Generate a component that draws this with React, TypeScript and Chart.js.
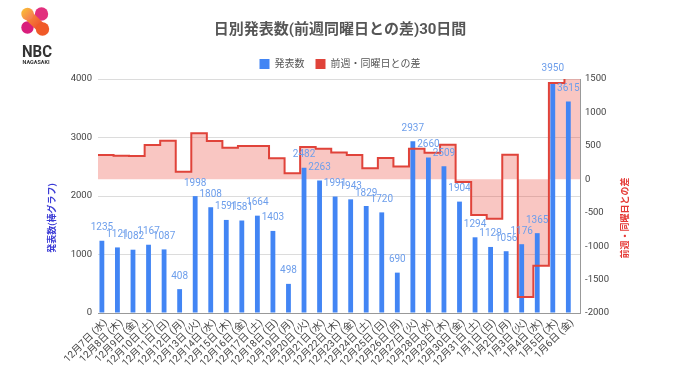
import React, { useEffect, useRef } from "react";
import { Chart, registerables } from "chart.js";

Chart.register(...registerables);

const categories = [
  "12月7日 (水)", "12月8日 (木)", "12月9日 (金)", "12月10日 (土)", "12月11日 (日)",
  "12月12日 (月)", "12月13日 (火)", "12月14日 (水)", "12月15日 (木)", "12月16日 (金)",
  "12月17日 (土)", "12月18日 (日)", "12月19日 (月)", "12月20日 (火)", "12月21日 (水)",
  "12月22日 (木)", "12月23日 (金)", "12月24日 (土)", "12月25日 (日)", "12月26日 (月)",
  "12月27日 (火)", "12月28日 (水)", "12月29日 (木)", "12月30日 (金)", "12月31日 (土)",
  "1月1日 (日)", "1月2日 (月)", "1月3日 (火)", "1月4日 (水)", "1月5日 (木)", "1月6日 (金)",
];

const counts = [
  1235, 1121, 1082, 1167, 1087, 408, 1998, 1808, 1591, 1581,
  1664, 1403, 498, 2482, 2263, 1991, 1943, 1829, 1720, 690,
  2937, 2660, 2509, 1904, 1294, 1129, 1056, 1176, 1365, 3950, 3615,
];

const weekDiff = [
  365, 352, 348, 513, 577, 114, 688, 573, 470, 499,
  497, 316, 90, 484, 455, 400, 362, 165, 317, 192,
  455, 397, 518, -39, -535, -591, 366, -1761, -1295, 1441, 1711,
];

const titleText = "日別発表数(前週同曜日との差)30日間";
const seriesNames = ["発表数", "前週・同曜日との差"];
const leftAxisTitle = "発表数(棒グラフ)";
const rightAxisTitle = "前週・同曜日との差";

const FONT = "Roboto, 'Noto Sans CJK JP', sans-serif";
const BLUE = "#4285f4";
const RED = "#e0433a";

const overlayPlugin = {
  id: "overlay",
  afterDatasetsDraw(chart: any) {
    const { ctx } = chart;
    const meta = chart.getDatasetMeta(0);
    ctx.save();
    ctx.font = `10px ${FONT}`;
    ctx.fillStyle = "#6d9eeb";
    ctx.textAlign = "center";
    ctx.textBaseline = "bottom";
    meta.data.forEach((el: any, i: number) => {
      ctx.fillText(String(counts[i]), el.x, el.y - 8);
    });
    ctx.restore();
  },
  afterDraw(chart: any) {
    const { ctx, chartArea } = chart;
    const cy = (chartArea.top + chartArea.bottom) / 2 + 22;
    ctx.save();
    ctx.font = `bold 9px ${FONT}`;
    ctx.textAlign = "center";
    ctx.textBaseline = "middle";
    ctx.fillStyle = "#3b3bd6";
    ctx.translate(53, cy);
    ctx.rotate(-Math.PI / 2);
    ctx.fillText(leftAxisTitle, 0, 0);
    ctx.restore();
    ctx.save();
    ctx.font = `bold 9px ${FONT}`;
    ctx.textAlign = "center";
    ctx.textBaseline = "middle";
    ctx.fillStyle = "#e53935";
    ctx.translate(626, cy);
    ctx.rotate(-Math.PI / 2);
    ctx.fillText(rightAxisTitle, 0, 0);
    ctx.restore();
  },
};

function Logo() {
  return (
    <svg
      width={70}
      height={70}
      style={{ position: "absolute", left: 0, top: 0 }}
      viewBox="0 0 70 70"
    >
      <defs>
        <linearGradient id="gTL" x1="0" y1="0" x2="1" y2="1">
          <stop offset="0" stopColor="#fbc531" />
          <stop offset="1" stopColor="#f3705a" />
        </linearGradient>
        <linearGradient id="gDiag" x1="0" y1="0" x2="1" y2="1">
          <stop offset="0" stopColor="#f7903c" />
          <stop offset="1" stopColor="#ee4a2e" />
        </linearGradient>
      </defs>
      <circle cx={27.5} cy={27.5} r={6.2} fill="#d91e7c" />
      <circle cx={41.5} cy={14} r={6.7} fill="#e2307e" />
      <line x1={27.5} y1={14.5} x2={42} y2={28.5} stroke="url(#gDiag)" strokeWidth={10} strokeLinecap="round" />
      <circle cx={27.5} cy={14} r={6.2} fill="url(#gTL)" />
      <circle cx={42.5} cy={29} r={6.7} fill="#f05a28" />
      <text x={22} y={56.5} fontFamily="Roboto, sans-serif" fontWeight="bold" fontSize={17} fill="#333" textLength={30} lengthAdjust="spacingAndGlyphs">NBC</text>
      <text x={22.5} y={63.5} fontFamily="Roboto, sans-serif" fontWeight="bold" fontSize={5.5} fill="#333" textLength={27} lengthAdjust="spacingAndGlyphs">NAGASAKI</text>
    </svg>
  );
}

export default function App() {
  const canvasRef = useRef<HTMLCanvasElement | null>(null);

  useEffect(() => {
    const canvas = canvasRef.current;
    if (!canvas) return;
    const lineData = weekDiff.map((v, i) => ({ x: i, y: v }));
    lineData.push({ x: weekDiff.length, y: weekDiff[weekDiff.length - 1] });

    const chart = new Chart(canvas, {
      type: "bar",
      data: {
        labels: categories,
        datasets: [
          {
            type: "bar",
            label: seriesNames[0],
            data: counts,
            backgroundColor: BLUE,
            barPercentage: 0.62,
            categoryPercentage: 1.0,
            yAxisID: "y",
            xAxisID: "x",
            order: 2,
          } as any,
          {
            type: "line",
            label: seriesNames[1],
            data: lineData,
            stepped: "before",
            borderColor: RED,
            borderWidth: 2,
            backgroundColor: "rgba(234, 67, 53, 0.3)",
            fill: "origin",
            pointRadius: 0,
            yAxisID: "y1",
            xAxisID: "xl",
            order: 1,
          } as any,
        ],
      },
      options: {
        responsive: false,
        animation: false,
        events: [],
        layout: { padding: { left: 0, right: 0, top: 0, bottom: 0 } },
        plugins: {
          filler: { drawTime: "beforeDatasetsDraw" },
          tooltip: { enabled: false },
          title: {
            display: true,
            text: titleText,
            color: "#555",
            font: { family: FONT, size: 15, weight: "bold", lineHeight: 1.2 },
            padding: { top: 21, bottom: 9 },
          },
          legend: {
            display: true,
            position: "top",
            labels: {
              boxWidth: 10,
              boxHeight: 10,
              padding: 11,
              color: "#555",
              font: { family: FONT, size: 10 },
              sort: (a: any, b: any) => a.datasetIndex - b.datasetIndex,
              generateLabels: (ch: any) => {
                const base = Chart.defaults.plugins.legend.labels.generateLabels(ch);
                return base.map((item: any) => {
                  const c = item.datasetIndex === 0 ? BLUE : RED;
                  return { ...item, fillStyle: c, strokeStyle: c, lineWidth: 0 };
                });
              },
            },
          },
        },
        scales: {
          x: {
            type: "category",
            offset: true,
            grid: { display: false, drawTicks: false },
            border: { display: true, color: "#999" },
            ticks: {
              autoSkip: false,
              minRotation: 45,
              maxRotation: 45,
              padding: 4,
              color: "#444",
              font: { family: FONT, size: 10 },
            },
            afterFit: (s: any) => {
              s.height = 69;
            },
          },
          xl: {
            type: "linear",
            position: "top",
            display: true,
            offset: false,
            bounds: "data",
            min: 0,
            max: weekDiff.length,
            ticks: { display: false },
            grid: { display: false, drawTicks: false },
            border: { display: false },
            afterFit: (s: any) => {
              s.height = 0;
            },
          },
          y: {
            type: "linear",
            position: "left",
            min: 0,
            max: 4000,
            ticks: {
              stepSize: 1000,
              padding: 6,
              color: "#444",
              font: { family: FONT, size: 9.5 },
              callback: (v: any) => String(v),
            },
            grid: {
              drawTicks: false,
              color: (c: any) => (c.tick && c.tick.value === 0 ? "#999" : "#dcdcdc"),
            },
            border: { display: false },
            afterFit: (s: any) => {
              s.width = 98;
            },
          },
          y1: {
            type: "linear",
            position: "right",
            min: -2000,
            max: 1500,
            ticks: {
              stepSize: 500,
              padding: 5,
              color: "#444",
              font: { family: FONT, size: 9.5 },
              callback: (v: any) => String(v),
            },
            grid: { drawOnChartArea: false, drawTicks: false },
            border: { display: true, color: "#999" },
            afterFit: (s: any) => {
              s.width = 100;
            },
          },
        },
      } as any,
      plugins: [overlayPlugin],
    });
    return () => chart.destroy();
  }, []);

  return (
    <div
      style={{
        position: "fixed",
        left: 0,
        top: 0,
        width: 680,
        height: 382,
        background: "#fff",
        overflow: "hidden",
      }}
    >
      <canvas ref={canvasRef} width={680} height={382} style={{ display: "block" }} />
      <Logo />
    </div>
  );
}
